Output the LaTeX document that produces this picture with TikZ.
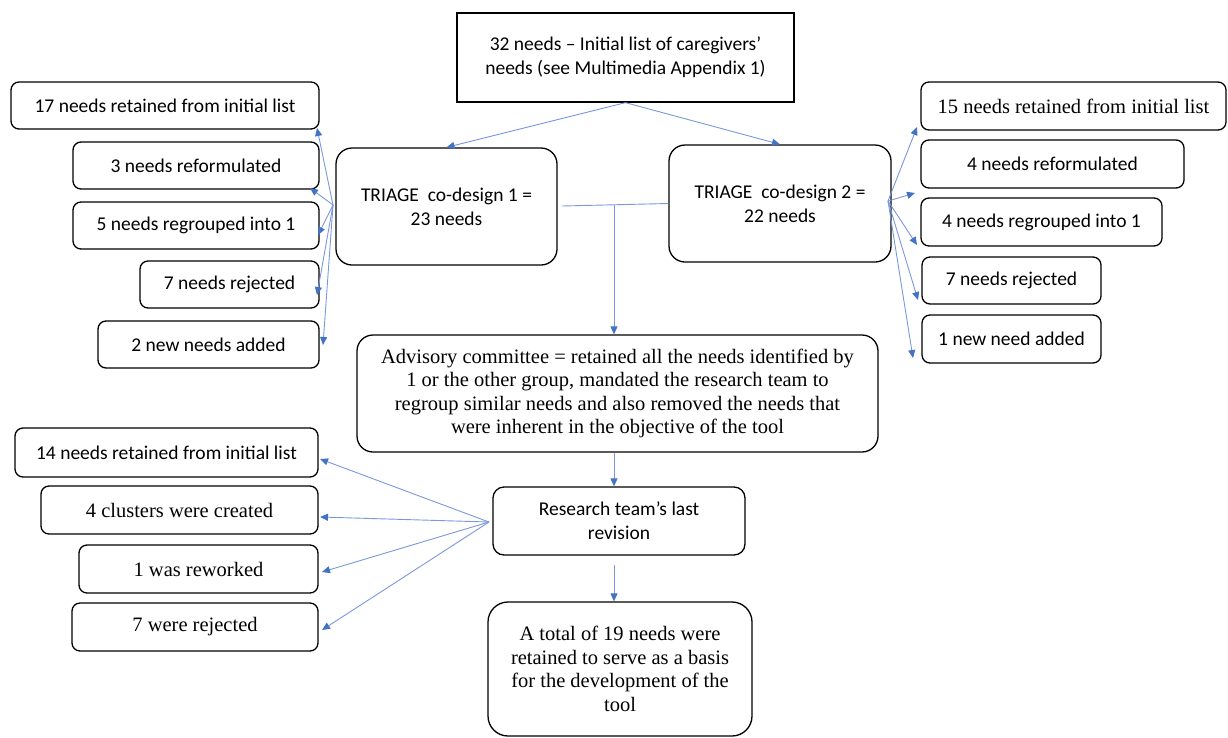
\documentclass[tikz,border=0pt]{standalone}
\usepackage{fontspec}
\setmainfont{Carlito}
\newfontfamily\serifb{Liberation Serif}
\usetikzlibrary{arrows.meta}
\definecolor{linkblue}{HTML}{7A98DC}
\definecolor{tipblue}{HTML}{4472C4}
\begin{document}
\begin{tikzpicture}[x=1pt,y=-1pt,
  box/.style={draw=black, line width=1.3pt, rounded corners=8pt, align=center, inner sep=0pt,
    font=\fontsize{19.5}{24}\selectfont},
  bigbox/.style={box, rounded corners=16pt},
  sbox/.style={box, font=\serifb\fontsize{20.5}{23.5}\selectfont},
  link/.style={draw=linkblue, line width=0.9pt, -{Triangle[length=8pt,width=7pt,color=tipblue]}},
  plain/.style={draw=linkblue, line width=0.9pt}]
\useasboundingbox (0,0) rectangle (1228,737);
% main column
\node[box, rounded corners=0pt, minimum width=337pt, minimum height=89pt] (top) at (625.5,57.5)
  {32 needs -- Initial list of caregivers'\\needs (see Multimedia Appendix 1)};
\node[bigbox, minimum width=221pt, minimum height=117pt] (t1) at (446.5,206.5) {TRIAGE\ \ co-design 1 =\\23 needs};
\node[bigbox, minimum width=222pt, minimum height=117pt] (t2) at (780,203.5) {TRIAGE\ \ co-design 2 =\\22 needs};
\node[sbox, rounded corners=16pt, minimum width=521pt, minimum height=117pt] (adv) at (617.5,393.5)
  {Advisory committee = retained all the needs identified by\\1 or the other group, mandated the research team to\\regroup similar needs and also removed the needs that\\were inherent in the objective of the tool};
\node[box, rounded corners=11pt, minimum width=252pt, minimum height=68pt] (rt) at (619,521) {Research team's last\\revision};
\node[sbox, rounded corners=20pt, minimum width=264pt, minimum height=134pt] (tot) at (620,669)
  {A total of 19 needs were\\retained to serve as a basis\\for the development of the\\tool};
% left group
\node[box, minimum width=308pt, minimum height=47pt] (l1) at (165,105.5) {17 needs retained from initial list};
\node[box, minimum width=246pt, minimum height=47pt] (l2) at (196,165.5) {3 needs reformulated};
\node[box, minimum width=246pt, minimum height=47pt] (l3) at (196,225.5) {5 needs regrouped into 1};
\node[box, minimum width=179pt, minimum height=47pt] (l4) at (229.5,284.5) {7 needs rejected};
\node[box, minimum width=221pt, minimum height=47pt] (l5) at (208.5,344.5) {2 new needs added};
% right group
\node[sbox, rounded corners=8pt, minimum width=305pt, minimum height=48pt] (r1) at (1073.5,106) {15 needs retained from initial list};
\node[box, minimum width=263pt, minimum height=48pt] (r2) at (1052.5,164) {4 needs reformulated};
\node[box, minimum width=241pt, minimum height=48pt] (r3) at (1041.5,222) {4 needs regrouped into 1};
\node[box, minimum width=179pt, minimum height=47pt] (r4) at (1011.5,280.5) {7 needs rejected};
\node[box, minimum width=179pt, minimum height=48pt] (r5) at (1011.5,339) {1 new need added};
% bottom-left group
\node[box, minimum width=303pt, minimum height=49pt] (b1) at (166.5,452.5) {14 needs retained from initial list};
\node[sbox, rounded corners=8pt, minimum width=277pt, minimum height=48pt] (b2) at (179.5,510) {4 clusters were created};
\node[sbox, rounded corners=8pt, minimum width=239pt, minimum height=48pt] (b3) at (198.5,569) {1 was reworked};
\node[sbox, rounded corners=8pt, minimum width=246pt, minimum height=48pt] (b4) at (195,627) {7 were rejected};
% connector points
\coordinate (lo) at (333,205);
\coordinate (ro) at (888,201);
\coordinate (bo) at (489,522);
\coordinate (j) at (614,205);
\coordinate (t1e) at (562,206);
\coordinate (l1t) at (317,128);
\coordinate (l2t) at (310,188);
\coordinate (l3t) at (318,235);
\coordinate (l4t) at (317,295);
\coordinate (l5t) at (323,345);
\coordinate (r1t) at (917,127);
\coordinate (r2t) at (915,193);
\coordinate (r3t) at (917,245);
\coordinate (r4t) at (918,300);
\coordinate (r5t) at (913,358);
\coordinate (b1t) at (320,459);
\coordinate (b2t) at (320,517);
\coordinate (b3t) at (322,572);
\coordinate (b4t) at (322,630);
\coordinate (rtb) at (614,565);
% connectors
\draw[link] (top.south) -- (t1.north);
\draw[link] (top.south) -- (t2.north);
\draw[plain] (t1e) -- (t2.west);
\draw[link] (j) -- (j |- adv.north);
\draw[link] (adv.south -| j) -- (rt.north -| j);
\draw[link] (rtb) -- (tot.north -| rtb);
\foreach \t in {l1t,l2t,l3t,l4t,l5t} \draw[link] (lo) -- (\t);
\foreach \t in {r1t,r2t,r3t,r4t,r5t} \draw[link] (ro) -- (\t);
\foreach \t in {b1t,b2t,b3t,b4t} \draw[link] (bo) -- (\t);
\end{tikzpicture}
\end{document}
